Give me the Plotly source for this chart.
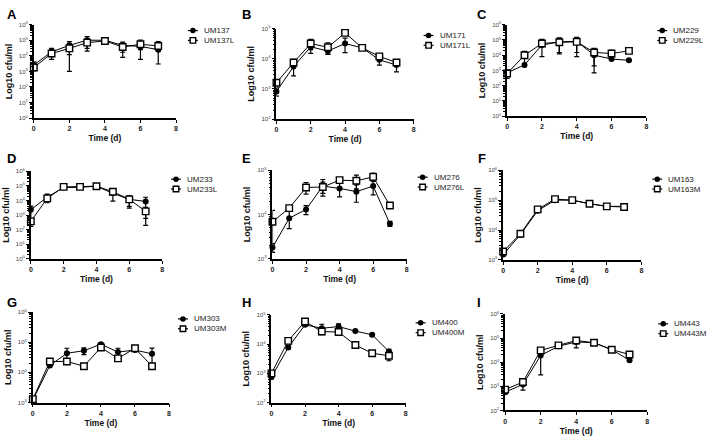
import plotly.graph_objects as go

W, H = 707, 439
FONT = "Liberation Sans, Arial, sans-serif"

days = [0, 1, 2, 3, 4, 5, 6, 7]
x_ticks = [0, 2, 4, 6, 8]
letters = ["A", "B", "C", "D", "E", "F", "G", "H", "I"]
strain_names = [
    ("UM137", "UM137L"), ("UM171", "UM171L"), ("UM229", "UM229L"),
    ("UM233", "UM233L"), ("UM276", "UM276L"), ("UM163", "UM163M"),
    ("UM303", "UM303M"), ("UM400", "UM400M"), ("UM443", "UM443M"),
]
# y range of each panel as powers of ten
decades = [(0, 6), (2, 5), (0, 6), (0, 6), (3, 5), (3, 6), (3, 6), (2, 5), (2, 6)]

# cfu/ml, mean and SD per day
A_wt = [2.6e3, 1.8e4, 4.7e4, 1.0e5, 1.0e5, 4.7e4, 4.0e4, 2.5e4]
A_wt_sd = [1.5e3, 1.2e4, 3.5e4, 7.0e4, 1.0e4, 3.0e4, 1.5e4, 5.0e3]
A_mu = [1.8e3, 1.4e4, 3.0e4, 7.0e4, 9.0e4, 3.7e4, 5.5e4, 4.3e4]
A_mu_sd = [5.0e2, 5.0e3, 2.9e4, 5.0e4, 1.5e4, 2.9e4, 4.9e4, 4.0e4]

B_wt = [8.3e2, 5.5e3, 2.5e4, 1.8e4, 3.2e4, 2.3e4, 9.2e3, 6.2e3]
B_wt_sd = [2.5e2, 2.8e3, 1.0e4, 4.0e3, 1.6e4, 1.0e3, 3.0e3, 2.5e3]
B_mu = [1.6e3, 7.5e3, 3.2e4, 2.4e4, 7.2e4, 2.3e4, 1.2e4, 7.5e3]
B_mu_sd = [3.0e2, 2.0e3, 1.2e4, 1.0e4, 8.0e3, 1.0e3, 2.0e3, 1.5e3]

C_wt = [7.0e2, 2.3e3, 4.6e4, 7.5e4, 8.0e4, 1.0e4, 5.6e3, 4.6e3]
C_wt_sd = [4.0e2, 5.0e2, 1.0e4, 6.0e4, 6.5e4, 9.3e3, 1.0e3, 5.0e2]
C_mu = [6.3e2, 1.0e4, 5.8e4, 7.0e4, 7.5e4, 1.5e4, 1.3e4, 1.9e4]
C_mu_sd = [2.0e2, 8.0e3, 5.0e4, 5.8e4, 6.7e4, 1.3e4, 8.0e3, 5.0e3]

D_wt = [2.3e3, 1.7e4, 7.7e4, 8.0e4, 9.5e4, 3.1e4, 1.2e4, 8.6e3]
D_wt_sd = [1.8e3, 1.0e4, 5.0e3, 5.0e3, 5.0e3, 2.2e4, 8.0e3, 8.0e3]
D_mu = [3.7e2, 1.4e4, 8.5e4, 8.5e4, 9.5e4, 4.0e4, 1.2e4, 1.8e3]
D_mu_sd = [2.0e2, 3.0e3, 5.0e3, 5.0e3, 5.0e3, 1.0e4, 9.0e3, 1.6e3]

E_wt = [1.8e3, 8.3e3, 1.3e4, 4.4e4, 3.9e4, 3.3e4, 4.4e4, 6.2e3]
E_wt_sd = [4.0e2, 3.5e3, 3.0e3, 1.8e4, 1.4e4, 1.4e4, 1.6e4, 8.0e2]
E_mu = [6.9e3, 1.4e4, 4.1e4, 4.2e4, 6.0e4, 5.8e4, 7.1e4, 1.6e4]
E_mu_sd = [5.5e3, 2.0e3, 1.2e4, 1.2e4, 8.0e3, 2.0e4, 1.5e4, 1.0e3]

F_wt = [1.5e3, 7.0e3, 4.4e4, 1.0e5, 1.0e5, 7.6e4, 6.2e4, 6.2e4]
F_wt_sd = [2.0e2, 5.0e2, 3.0e3, 8.0e3, 1.0e4, 7.0e3, 5.0e3, 8.0e3]
F_mu = [1.9e3, 7.5e3, 4.9e4, 1.08e5, 1.0e5, 7.6e4, 6.2e4, 5.9e4]
F_mu_sd = [2.0e2, 5.0e2, 3.0e3, 8.0e3, 8.0e3, 6.0e3, 5.0e3, 1.2e4]

G_wt = [1.2e3, 1.7e4, 4.3e4, 5.2e4, 8.6e4, 4.7e4, 5.5e4, 4.1e4]
G_wt_sd = [2.0e2, 2.0e3, 2.0e4, 1.3e4, 1.0e4, 1.6e4, 5.0e3, 2.3e4]
G_mu = [1.3e3, 2.3e4, 2.3e4, 1.6e4, 6.7e4, 2.9e4, 6.3e4, 1.6e4]
G_mu_sd = [2.0e2, 3.0e3, 3.0e3, 2.0e3, 8.0e3, 5.0e3, 5.0e3, 3.0e3]

H_wt = [7.5e2, 7.7e3, 4.6e4, 3.5e4, 4.0e4, 2.8e4, 2.1e4, 5.6e3]
H_wt_sd = [1.0e2, 1.0e3, 5.0e3, 1.3e4, 1.0e4, 2.0e3, 2.0e3, 1.0e3]
H_mu = [1.0e3, 1.3e4, 6.0e4, 2.7e4, 2.6e4, 9.3e3, 4.9e3, 4.0e3]
H_mu_sd = [1.0e2, 2.0e3, 5.0e3, 6.0e3, 3.0e3, 1.0e3, 5.0e2, 1.3e3]

I_wt = [5.7e2, 1.2e3, 1.9e4, 4.6e4, 6.9e4, 6.4e4, 3.3e4, 1.2e4]
I_wt_sd = [1.0e2, 5.0e2, 1.6e4, 5.0e3, 3.0e4, 5.0e3, 3.0e3, 1.5e3]
I_mu = [7.3e2, 1.5e3, 3.1e4, 5.0e4, 8.0e4, 6.4e4, 3.3e4, 2.1e4]
I_mu_sd = [1.0e2, 3.0e2, 8.0e3, 5.0e3, 1.5e4, 5.0e3, 3.0e3, 2.0e3]

series = [
    (A_wt, A_wt_sd, A_mu, A_mu_sd), (B_wt, B_wt_sd, B_mu, B_mu_sd),
    (C_wt, C_wt_sd, C_mu, C_mu_sd), (D_wt, D_wt_sd, D_mu, D_mu_sd),
    (E_wt, E_wt_sd, E_mu, E_mu_sd), (F_wt, F_wt_sd, F_mu, F_mu_sd),
    (G_wt, G_wt_sd, G_mu, G_mu_sd), (H_wt, H_wt_sd, H_mu, H_mu_sd),
    (I_wt, I_wt_sd, I_mu, I_mu_sd),
]

# pixel layout: plot left, right, top, bottom, legend symbol centre x, first legend row y, letter x, letter y
boxes = [
    (32, 175, 21, 116, 192, 27, 3, 1),
    (276, 414, 25, 117, 429, 32, 239, 1),
    (508, 648, 21, 114, 664, 27, 476, 1),
    (29, 161, 170, 259, 175, 178, 3, 147),
    (272, 407, 169, 259, 423, 176, 239, 147),
    (504, 643, 169, 260, 659, 178, 477, 147),
    (31, 168, 313, 405, 182, 320, 3, 294),
    (271, 406, 316, 405, 421, 324, 239, 294),
    (506, 649, 315, 413, 665, 325, 476, 294),
]


def px_x(v):
    return v / W


def px_y(v):
    return 1 - v / H


fig = go.Figure()
shapes, notes = [], []
styles = [
    dict(symbol="circle", size=6, color="black", line=dict(color="black", width=0)),
    dict(symbol="square", size=6.5, color="white", line=dict(color="black", width=1.4)),
]

for i, (box, names, dec, data) in enumerate(zip(boxes, strain_names, decades, series), start=1):
    l, r, t, b, lx, ly, tx, ty = box
    sfx = "" if i == 1 else str(i)
    for k in range(2):
        fig.add_trace(go.Scatter(
            x=days, y=data[2 * k], name=names[k], mode="lines+markers",
            xaxis="x" + sfx, yaxis="y" + sfx, showlegend=False, cliponaxis=False,
            line=dict(color="black", width=1), marker=styles[k],
            error_y=dict(type="data", array=data[2 * k + 1], color="black", thickness=1.2, width=2.5),
        ))
    exps = list(range(dec[0], dec[1] + 1))
    fig.layout["xaxis" + sfx] = dict(
        domain=[px_x(l), px_x(r)], anchor="y" + sfx, range=[0, 8], tickvals=x_ticks,
        showline=True, linecolor="black", linewidth=1.5, ticks="outside", ticklen=3,
        tickwidth=1, tickcolor="black", showgrid=False, zeroline=False,
        tickfont=dict(size=7, color="#222", family=FONT, weight="bold"),
        title=dict(text="Time (d)", font=dict(size=8.5, color="#111", family=FONT, weight="bold"), standoff=4),
    )
    fig.layout["yaxis" + sfx] = dict(
        domain=[px_y(b), px_y(t)], anchor="x" + sfx, type="log", range=[dec[0], dec[1]],
        tickmode="array", tickvals=[10 ** e for e in exps], ticktext=["10<sup>%d</sup>" % e for e in exps],
        showline=True, linecolor="black", linewidth=1.5, ticks="outside", ticklen=3,
        tickwidth=1, tickcolor="black", showgrid=False, zeroline=False,
        minor=dict(ticks="outside", ticklen=2, tickwidth=1, tickcolor="black", dtick="D1", showgrid=False),
        tickfont=dict(size=6, color="#444", family=FONT),
        title=dict(text="Log10 cfu/ml", font=dict(size=9, color="#111", family=FONT, weight="bold"), standoff=5),
    )
    # hand-drawn legend
    for k in range(2):
        yy = ly + 10 * k
        shapes.append(dict(type="line", xref="paper", yref="paper", x0=px_x(lx - 5), x1=px_x(lx + 5),
                           y0=px_y(yy), y1=px_y(yy), line=dict(color="black", width=1.2)))
        if k == 0:
            shapes.append(dict(type="circle", xref="paper", yref="paper", x0=px_x(lx - 2.8), x1=px_x(lx + 2.8),
                               y0=px_y(yy + 2.8), y1=px_y(yy - 2.8), fillcolor="black", line=dict(width=0)))
        else:
            shapes.append(dict(type="rect", xref="paper", yref="paper", x0=px_x(lx - 2.8), x1=px_x(lx + 2.8),
                               y0=px_y(yy + 2.8), y1=px_y(yy - 2.8), fillcolor="white",
                               line=dict(color="black", width=1.4)))
        notes.append(dict(text=names[k], xref="paper", yref="paper", x=px_x(lx + 9), y=px_y(yy),
                          xanchor="left", yanchor="middle", showarrow=False,
                          font=dict(size=8, color="#222", family=FONT)))
    notes.append(dict(text="<b>%s</b>" % letters[i - 1], xref="paper", yref="paper", x=px_x(tx), y=px_y(ty),
                      xanchor="left", yanchor="top", showarrow=False,
                      font=dict(size=13, color="black", family=FONT)))

fig.update_layout(
    width=W, height=H, margin=dict(l=0, r=0, t=0, b=0),
    paper_bgcolor="white", plot_bgcolor="white",
    font=dict(family=FONT), shapes=shapes, annotations=notes, showlegend=False,
)
# drop the default page margin so the figure sits at the window's corner
fig.write_html("out.html", config={"displayModeBar": False},
               post_script="document.body.style.margin='0';")
